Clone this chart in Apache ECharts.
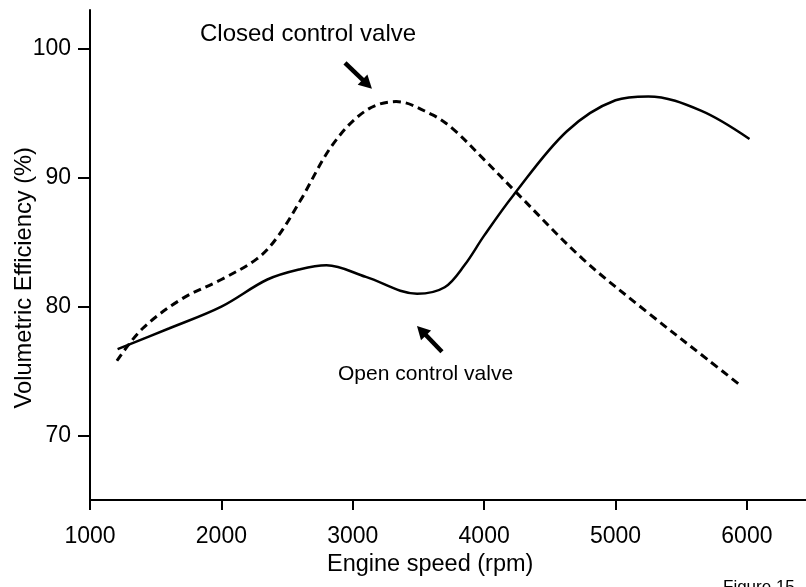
<!DOCTYPE html>
<html>
<head>
<meta charset="utf-8">
<script src="https://cdn.jsdelivr.net/npm/echarts@6/dist/echarts.min.js"></script>
<style>
html,body{margin:0;padding:0;background:#fff;}
#chart{width:806px;height:587px;}
</style>
</head>
<body>
<div id="chart"></div>
<script>
// Open control valve (solid)
var openRpm = [1210, 1600, 2000, 2350, 2600, 2800, 3100, 3490, 3700, 3850, 4000, 4220, 4630, 5000, 5250, 5650, 6020];
var openVE  = [76.7, 78.3, 80.0, 82.1, 82.9, 83.2, 82.3, 81.0, 81.5, 83.2, 85.5, 88.6, 93.6, 96.0, 96.3, 95.2, 93.0];
// Closed control valve (dashed)
var closedRpm = [1205, 1400, 1700, 2000, 2270, 2420, 2600, 2850, 3100, 3330, 3600, 3760, 4000, 4250, 4750, 5250, 5700, 5950];
var closedVE  = [75.8, 78.3, 80.6, 82.1, 83.7, 85.3, 88.2, 92.6, 95.2, 95.9, 94.9, 93.8, 91.4, 88.8, 83.7, 79.5, 75.9, 73.9];
// Axis ticks
var xTicks = [1000, 2000, 3000, 4000, 5000, 6000];
var yTicks = [70, 80, 90, 100];
// Annotation arrows (data coordinates: tail -> head)
var closedArrow = [[2941, 98.9], [3146, 96.9]];
var openArrow = [[3679, 76.5], [3489, 78.5]];
var closedLabel = 'Closed control valve';
var openLabel = 'Open control valve';
var xTitle = 'Engine speed (rpm)';
var yTitle = 'Volumetric Efficiency (%)';
var figLabel = 'Figure 15';

function zip(a, b) { return a.map(function (v, i) { return [v, b[i]]; }); }

var FONT = '"Liberation Sans", Arial, Helvetica, sans-serif';
var chart = echarts.init(document.getElementById('chart'), null, {renderer: 'canvas'});

var baseGraphics = [
  {type: 'text', left: 200, top: 22, style: {text: closedLabel, fill: '#000', font: '24px ' + FONT}},
  {type: 'text', left: 338, top: 364, style: {text: openLabel, fill: '#000', font: '21px ' + FONT}},
  {type: 'text', left: 327, top: 553, style: {text: xTitle, fill: '#000', font: '23.5px ' + FONT}},
  {type: 'text', left: 12, top: 147, rotation: Math.PI / 2, style: {text: yTitle, fill: '#000', font: '23.7px ' + FONT}},
  {type: 'text', left: 723, top: 579, style: {text: figLabel, fill: '#000', font: '17px ' + FONT}}
];

chart.setOption({
  animation: false,
  backgroundColor: '#fff',
  grid: {left: 90, right: 0, top: 10, bottom: 87, outerBoundsMode: 'none'},
  xAxis: {
    type: 'value', min: 1000, max: 6450,
    axisLine: {show: true, lineStyle: {color: '#000', width: 2}},
    axisTick: {show: true, length: 10, lineStyle: {color: '#000', width: 2}, customValues: xTicks},
    axisLabel: {customValues: xTicks, color: '#000', fontSize: 23, fontFamily: FONT, margin: 25,
      formatter: function (v) { return String(v); }},
    splitLine: {show: false}
  },
  yAxis: {
    type: 'value', min: 65, max: 103,
    axisLine: {show: true, lineStyle: {color: '#000', width: 2}},
    axisTick: {show: true, length: 12, lineStyle: {color: '#000', width: 2}, customValues: yTicks},
    axisLabel: {customValues: yTicks, color: '#000', fontSize: 23, fontFamily: FONT, margin: 19,
      formatter: function (v) { return String(v); }},
    splitLine: {show: false}
  },
  series: [
    {
      type: 'line', name: openLabel, data: zip(openRpm, openVE), smooth: 0.35,
      showSymbol: false, lineStyle: {color: '#000', width: 2.5}
    },
    {
      type: 'line', name: closedLabel, data: zip(closedRpm, closedVE), smooth: 0.35,
      showSymbol: false, lineStyle: {color: '#000', width: 3, type: [8, 5]}
    }
  ],
  graphic: baseGraphics
});

function arrowShapes(pts) {
  var a = chart.convertToPixel({gridIndex: 0}, pts[0]);
  var b = chart.convertToPixel({gridIndex: 0}, pts[1]);
  var dx = b[0] - a[0], dy = b[1] - a[1];
  var len = Math.sqrt(dx * dx + dy * dy);
  var ux = dx / len, uy = dy / len;
  var headLen = 13, headW = 7;
  var bx = b[0] - ux * headLen, by = b[1] - uy * headLen;
  var px = -uy, py = ux;
  return [
    {type: 'line', shape: {x1: a[0], y1: a[1], x2: bx + ux * 1, y2: by + uy * 1},
      style: {stroke: '#000', lineWidth: 4.5}},
    {type: 'polygon', shape: {points: [[b[0], b[1]], [bx + px * headW, by + py * headW], [bx - px * headW, by - py * headW]]},
      style: {fill: '#000'}}
  ];
}

chart.setOption({graphic: baseGraphics.concat(arrowShapes(closedArrow), arrowShapes(openArrow))}, {replaceMerge: ['graphic']});
</script>
</body>
</html>
